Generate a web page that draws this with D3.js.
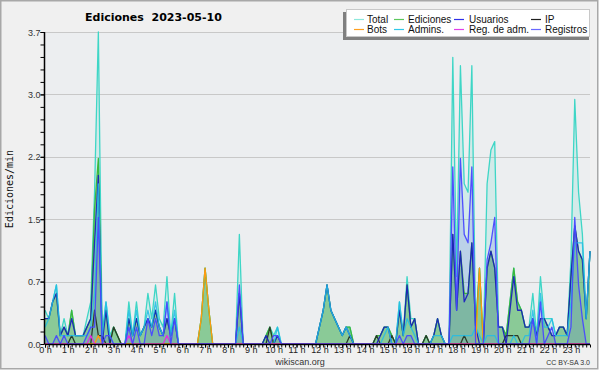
<!DOCTYPE html>
<html>
<head>
<meta charset="utf-8">
<script src="https://cdnjs.cloudflare.com/ajax/libs/d3/7.8.5/d3.min.js"></script>
<style>
  body { margin: 0; background: #fff; }
  svg text { font-family: "Liberation Sans", Arial, sans-serif; }
</style>
</head>
<body>
<div id="chart"></div>
<script>
// one value per 10 minutes, 144 slots, edits per minute
var total = [
  0.4,0.3,0.5,0.7,0.1,0.3,0.1,0.4,0.1,0.1,0.1,0.3,
  0.5,1.8,3.7,0.1,0.5,0.1,0.2,0.1,0,0,0.5,0.1,
  0.5,0.1,0.2,0.6,0.3,0.7,0.3,0.2,0.8,0.1,0.6,0,
  0,0,0,0,0,0.3,0.9,0.4,0,0,0,0,
  0,0,0,1.3,0,0,0,0,0,0,0.1,0.2,
  0.1,0.2,0,0,0,0,0,0,0,0,0,0,
  0.2,0.4,0.7,0.4,0.3,0.2,0.1,0.2,0.2,0,0,0,
  0,0,0,0.1,0.1,0.2,0.2,0.1,0,0.5,0.1,0.8,
  0.3,0.3,0,0,0.1,0,0.1,0.3,0.1,0,0,3.4,
  0.8,3.3,1.9,1.8,3.3,0.2,0.9,0,1.9,2.3,2.4,0.2,
  0.2,0.1,0.5,0.9,0.5,0.4,0.2,0.2,0.6,0.1,0.8,0.3,
  0.3,0.3,0.1,0.2,0.2,0.1,1.0,2.9,1.8,1.3,0.3,1.1
];
var ediciones = [
  0.3,0.3,0.5,0.6,0.1,0.2,0.1,0.4,0.1,0.1,0.1,0.2,
  0.3,1.6,2.2,0.1,0.4,0,0.2,0.1,0,0,0.3,0.1,
  0.3,0.1,0.2,0.3,0.2,0.4,0.2,0.1,0.3,0.1,0.3,0,
  0,0,0,0,0,0.3,0.9,0.4,0,0,0,0,
  0,0,0,0.6,0,0,0,0,0,0,0.1,0.2,
  0,0.1,0,0,0,0,0,0,0,0,0,0,
  0.2,0.4,0.7,0.4,0.3,0.2,0.1,0.2,0.2,0,0,0,
  0,0,0,0.1,0.1,0.2,0.2,0.1,0,0.4,0.1,0.7,
  0.2,0.3,0,0,0.1,0,0.1,0.3,0.1,0,0,1.3,
  0.4,1.1,0.6,0.6,1.2,0.2,0.9,0,0.9,1.1,0.9,0.2,
  0.2,0.1,0.5,0.9,0.5,0.4,0.2,0.2,0.3,0.1,0.3,0.3,
  0.2,0.1,0.1,0.2,0.2,0.1,0.8,1.4,1.1,1.0,0.3,1.1
];
var usuarios = [
  0.3,0.3,0.5,0.6,0.1,0.2,0.1,0.3,0.1,0.1,0.1,0.2,
  0.3,1.2,2.0,0,0.4,0,0,0,0,0,0.3,0.1,
  0.3,0.1,0.2,0.3,0.2,0.4,0.2,0.1,0.3,0.1,0.3,0,
  0,0,0,0,0,0,0,0,0,0,0,0,
  0,0,0,0.6,0,0,0,0,0,0,0.1,0,
  0,0.1,0,0,0,0,0,0,0,0,0,0,
  0.2,0.4,0.7,0.4,0.3,0.2,0.1,0.2,0.1,0,0,0,
  0,0,0,0,0.1,0.2,0.2,0,0,0.4,0.1,0.7,
  0.2,0.3,0,0,0,0,0.1,0.3,0.1,0,0,1.3,
  0.4,1.1,0.5,0.6,1.2,0.2,0,0,0.9,1.1,0.9,0.2,
  0.2,0,0.4,0.8,0.4,0.4,0.2,0.2,0.3,0.1,0.3,0.3,
  0.2,0.1,0.1,0.2,0.2,0.1,0.8,1.4,1.1,1.0,0.3,1.1
];
var ip = [
  0,0,0,0,0,0,0,0.1,0,0,0,0,
  0,0.4,0.1,0.1,0,0,0.2,0.1,0,0,0,0,
  0,0,0,0,0,0,0,0,0,0,0,0,
  0,0,0,0,0,0,0,0,0,0,0,0,
  0,0,0,0,0,0,0,0,0,0,0,0.2,
  0,0,0,0,0,0,0,0,0,0,0,0,
  0,0,0,0,0,0,0,0,0.1,0,0,0,
  0,0,0,0.1,0,0,0,0.1,0,0,0,0,
  0,0,0,0,0.1,0,0,0,0,0,0,0,
  0,0,0.1,0,0,0,0,0,0,0,0,0,
  0,0.1,0.1,0.1,0.1,0,0,0,0,0,0,0,
  0,0,0,0,0,0,0,0,0,0,0,0
];
var bots = [
  0,0,0,0,0,0,0,0,0,0,0,0,
  0,0,0.1,0,0,0,0,0,0,0,0,0,
  0,0,0,0,0,0,0,0,0,0,0,0,
  0,0,0,0,0,0.3,0.9,0.4,0,0,0,0,
  0,0,0,0,0,0,0,0,0,0,0,0,
  0,0,0,0,0,0,0,0,0,0,0,0,
  0,0,0,0,0,0,0,0,0,0,0,0,
  0,0,0,0,0,0,0,0,0,0,0,0,
  0,0,0,0,0,0,0,0,0,0,0,0,
  0,0,0,0,0,0,0.9,0,0,0,0,0,
  0,0,0,0,0,0,0,0,0,0,0,0,
  0,0,0,0,0,0,0,0,0,0,0,0
];
var admins = [
  0.2,0.3,0.5,0.7,0.1,0.1,0.1,0.1,0.1,0.1,0.1,0.1,
  0.2,0.6,1.9,0.1,0.5,0.1,0,0,0,0,0.4,0.1,
  0.4,0.1,0.2,0.4,0.2,0.5,0.2,0.1,0.5,0.1,0.4,0,
  0,0,0,0,0,0,0,0,0,0,0,0,
  0,0,0,0.2,0,0,0,0,0,0,0,0,
  0,0.2,0,0,0,0,0,0,0,0,0,0,
  0.2,0.4,0.7,0.4,0.3,0.2,0.1,0.2,0.1,0,0,0,
  0,0,0,0,0,0.1,0.2,0,0,0.5,0.1,0.3,
  0.2,0.1,0,0,0,0,0.1,0.1,0.1,0,0,0.1,
  0.1,0.1,0.1,0.1,0.1,0.2,0.1,0,0.1,0.1,0.1,0,
  0,0,0,0.1,0,0,0.1,0.1,0.4,0,0.6,0.2,
  0.2,0.3,0.1,0.1,0.1,0.1,0.5,1.2,1.2,1.2,0.3,1.1
];
var regAdm = [
  0,0,0,0,0,0,0,0,0,0,0,0,
  0.1,0,0,0,0,0,0,0,0,0,0.1,0,
  0,0,0,0,0,0,0,0,0.1,0,0,0,
  0,0,0,0,0,0,0,0,0,0,0,0,
  0,0,0,0,0,0,0,0,0,0,0,0,
  0,0,0,0,0,0,0,0,0,0,0,0,
  0,0,0,0,0,0,0,0,0,0,0,0,
  0,0,0,0,0,0,0,0,0,0,0,0,
  0,0,0,0,0,0,0,0,0,0,0,0,
  0,0,0,0,0,0,0,0,0,0,0,0,
  0,0,0,0,0,0,0,0,0,0,0,0,
  0,0,0,0,0,0,0,0,0,0,0,0
];
var registros = [
  0.1,0,0,0.1,0,0.1,0,0,0,0,0,0.1,
  0.2,0.2,1.5,0,0.1,0.1,0,0,0,0,0.2,0,
  0.2,0,0,0.3,0.1,0.3,0.1,0.1,0.5,0,0.3,0,
  0,0,0,0,0,0,0,0,0,0,0,0,
  0,0,0,0.7,0,0,0,0,0,0,0,0,
  0.1,0.1,0,0,0,0,0,0,0,0,0,0,
  0,0,0,0,0,0,0,0,0,0,0,0,
  0,0,0,0,0,0,0,0,0,0.1,0,0.1,
  0.1,0,0,0,0,0,0,0,0,0,0,2.1,
  0.4,2.2,1.3,1.2,2.1,0,0,0,1.0,1.2,1.5,0,
  0,0,0,0,0,0,0,0,0.3,0,0.5,0,
  0.1,0.2,0,0,0,0,0.2,1.5,0.7,0.3,0,0
];

var hourLabels = ["0 h","1 h","2 h","3 h","4 h","5 h","6 h","7 h","8 h","9 h","10 h","11 h",
  "12 h","13 h","14 h","15 h","16 h","17 h","18 h","19 h","20 h","21 h","22 h","23 h"];
var yMax = 3.7;
var yTickLabels = ["0.0","0.7","1.5","2.2","3.0","3.7"];

var legendNames = ["Total","Ediciones","Usuarios","IP","Bots","Admins.","Reg. de adm.","Registros"];
var legendColors = ["#8ee8dc","#5cc85c","#3030e8","#202020","#ffa020","#30c8e8","#e040e8","#6868ff"];

var W = 600, H = 370;
var mLeft = 45, mRight = 590, mTop = 32, mBottom = 344;

var svg = d3.select("#chart").append("svg").attr("width", W).attr("height", H);

svg.append("rect").attr("x", 0.75).attr("y", 0.75).attr("width", W - 3).attr("height", H - 2)
  .attr("fill", "#f0f0f0").attr("stroke", "#a8a8a8").attr("stroke-width", 1.5);
svg.append("rect").attr("x", mLeft).attr("y", mTop).attr("width", mRight - mLeft).attr("height", mBottom - mTop)
  .attr("fill", "#eceef0");

var x = d3.scaleLinear().domain([0, total.length - 1]).range([mLeft, mRight]);
var y = d3.scaleLinear().domain([0, yMax]).range([mBottom, mTop]);

var majorY = yTickLabels.map(function (d, i) { return yMax * i / 5; });
var minorY = d3.range(26).map(function (i) { return yMax * i / 25; });

// grid
svg.append("g").selectAll("line").data(majorY.slice(1)).enter().append("line")
  .attr("x1", mLeft).attr("x2", mRight)
  .attr("y1", function (d) { return Math.round(y(d)) + 0.5; })
  .attr("y2", function (d) { return Math.round(y(d)) + 0.5; })
  .attr("stroke", "#c8c8c8").attr("stroke-width", 1);

function area(vals) {
  return d3.area().x(function (d, i) { return x(i); }).y0(mBottom).y1(function (d) { return y(d); })(vals);
}
function line(vals) {
  return d3.line().x(function (d, i) { return x(i); }).y(function (d) { return y(d); })(vals);
}

var plot = svg.append("g");
plot.append("path").attr("d", area(total)).attr("fill", "rgba(60,210,190,0.14)");
plot.append("path").attr("d", area(ediciones)).attr("fill", "rgba(50,165,50,0.45)");
plot.append("path").attr("d", area(registros)).attr("fill", "rgba(70,90,230,0.16)");

// drawing order: later lines sit on top
var series = [
  [total, "#3ed6c6", 1],
  [ediciones, "#3cb83c", 1],
  [ip, "#2a3a2a", 1],
  [usuarios, "#1818c0", 0.9],
  [admins, "#22bde6", 0.85],
  [bots, "#ff9a10", 1],
  [regAdm, "#e030e0", 1],
  [registros, "#4848ff", 0.95]
];
series.forEach(function (s) {
  plot.append("path").attr("d", line(s[0])).attr("fill", "none")
    .attr("stroke", s[1]).attr("stroke-opacity", s[2])
    .attr("stroke-width", 1.3).attr("stroke-linejoin", "round");
});

// y axis
var yAxisMinor = d3.axisLeft(y).tickValues(minorY).tickSize(4).tickFormat("");
svg.append("g").attr("transform", "translate(" + (mLeft - 0.5) + ",0)").call(yAxisMinor)
  .call(function (g) { g.select(".domain").remove(); })
  .selectAll("line").attr("stroke", "#000");
var yAxis = d3.axisLeft(y).tickValues(majorY).tickSize(4)
  .tickFormat(function (d, i) { return yTickLabels[i]; });
var gy = svg.append("g").attr("transform", "translate(" + (mLeft - 0.5) + ",0)").call(yAxis);
gy.select(".domain").attr("d", "M0," + mTop + "V" + mBottom).attr("stroke", "#000").attr("stroke-width", 1.5);
gy.selectAll("line").attr("stroke", "#000");
gy.selectAll("text").attr("font-size", 9).attr("fill", "#333").attr("x", -4).attr("dy", "0.35em")
  .style("font-family", "'Liberation Sans', Arial, sans-serif");

// x axis
var xAxisMinor = d3.axisBottom(x).tickValues(d3.range(total.length)).tickSize(3).tickFormat("");
var gxm = svg.append("g").attr("transform", "translate(0," + (mBottom + 0.5) + ")").call(xAxisMinor);
gxm.select(".domain").attr("d", "M" + mLeft + ",0H" + mRight).attr("stroke", "#000").attr("stroke-width", 1.5);
gxm.selectAll("line").attr("stroke", "#000");
var xAxis = d3.axisBottom(x).tickValues(hourLabels.map(function (d, i) { return i * 6; }))
  .tickSize(3).tickFormat(function (d, i) { return hourLabels[i]; });
var gx = svg.append("g").attr("transform", "translate(0," + (mBottom + 0.5) + ")").call(xAxis);
gx.select(".domain").remove();
gx.selectAll("line").attr("stroke", "#000");
gx.selectAll("text").attr("font-size", 9).attr("fill", "#222").attr("y", 2).attr("dy", "0.71em")
  .style("font-family", "'Liberation Sans', Arial, sans-serif");

// titles
svg.append("text").attr("x", 85).attr("y", 21).text("Ediciones  2023-05-10")
  .style("font-family", "'DejaVu Sans', sans-serif").attr("font-weight", "bold").attr("font-size", 11)
  .style("white-space", "pre");
svg.append("text").attr("transform", "translate(13,189) rotate(-90)").attr("text-anchor", "middle")
  .style("font-family", "'DejaVu Sans Mono', monospace").attr("font-size", 10).attr("fill", "#111")
  .text("Ediciones/min");
svg.append("text").attr("x", 300).attr("y", 365).attr("text-anchor", "middle")
  .attr("font-size", 9).attr("fill", "#333").text("wikiscan.org");
svg.append("text").attr("x", 590).attr("y", 365).attr("text-anchor", "end")
  .attr("font-size", 7).attr("fill", "#333").text("CC BY-SA 3.0");

// legend
var lg = svg.append("g");
lg.append("rect").attr("x", 343).attr("y", 12).attr("width", 246).attr("height", 28).attr("fill", "#808080");
lg.append("rect").attr("x", 346.5).attr("y", 9.5).attr("width", 243).attr("height", 27)
  .attr("fill", "#fff").attr("stroke", "#c8c8c8").attr("stroke-width", 1);
var swX = [354, 394, 454, 531];
var txX = [367, 408, 469, 545];
legendNames.forEach(function (name, i) {
  var c = i % 4, cy = i < 4 ? 19.5 : 29.5;
  lg.append("line").attr("x1", swX[c]).attr("x2", swX[c] + 10).attr("y1", cy).attr("y2", cy)
    .attr("stroke", legendColors[i]).attr("stroke-width", 1.2);
  lg.append("text").attr("x", txX[c]).attr("y", cy + 3.5).attr("font-size", 10).attr("fill", "#111").text(name);
});
</script>
</body>
</html>
